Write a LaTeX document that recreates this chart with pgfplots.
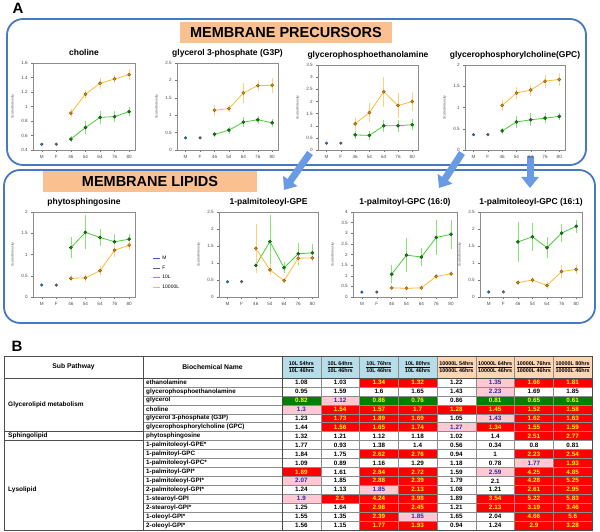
\documentclass[border=0pt]{standalone}
\usepackage{fontspec}
\setmainfont{Liberation Sans}
\usepackage{pgfplots}
\pgfplotsset{compat=1.18}
\usetikzlibrary{arrows.meta}

\definecolor{boxblue}{RGB}{70,120,195}
\definecolor{peach}{RGB}{250,192,143}
\definecolor{arrowblue}{RGB}{105,155,228}
\definecolor{lg}{RGB}{70,205,50}
\definecolor{lgE}{RGB}{135,228,115}
\definecolor{dg}{RGB}{25,125,25}
\definecolor{lo}{RGB}{255,185,55}
\definecolor{loE}{RGB}{255,208,125}
\definecolor{do}{RGB}{215,140,20}
\definecolor{mb}{RGB}{45,105,185}
\definecolor{fg}{RGB}{95,95,115}
\definecolor{cW}{RGB}{255,255,255}
\definecolor{cR}{RGB}{255,0,0}
\definecolor{cG}{RGB}{0,128,0}
\definecolor{cP}{RGB}{255,200,210}
\definecolor{tW}{RGB}{0,0,0}
\definecolor{tR}{RGB}{255,255,0}
\definecolor{tG}{RGB}{255,255,0}
\definecolor{tP}{RGB}{40,40,170}
\definecolor{headblue}{RGB}{183,222,232}
\definecolor{headpeach}{RGB}{252,213,180}

\pgfplotsset{
 chartstyle/.style={
  scale only axis, anchor=south west,
  xmin=-0.6, xmax=6.4, xtick={0,...,6}, xticklabels={M,F,46,54,64,76,80},
  ymin=0,
  tick pos=left, tick align=outside, major tick length=1.8pt,
  axis line style={draw=black!45, line width=0.4pt},
  tick style={draw=black!55, line width=0.4pt},
  tick label style={font=\fontsize{4.6}{5}\selectfont, text=black!70},
  /pgf/number format/assume math mode=true,
  ylabel={Scaled Intensity},
  ylabel style={font=\fontsize{3.4}{4}\selectfont, text=black!70},
  title style={at={(0.5,1)}, anchor=base, yshift=1pt, font=\fontsize{8.5}{10}\selectfont\bfseries},
  clip=false,
 },
 shortleg/.style={legend image code/.code={\draw[##1] (0pt,0pt) -- (7pt,0pt);}},
}

\newcommand{\chart}[9]{%
\begin{axis}[chartstyle, at={(#1pt,#2pt)}, width=#3pt, #4, title={#5}]
#9
\addplot[forget plot, only marks, mark=*, mark size=1.4, mark options={fill=mb, draw=mb!70!black, line width=0.3pt}] coordinates {(0,#6)};
\addplot[forget plot, only marks, mark=*, mark size=1.4, mark options={fill=fg, draw=fg!70!black, line width=0.3pt}] coordinates {(1,#6)};
\addplot[forget plot, lg, line width=0.8pt, mark=*, mark size=1.6, mark options={fill=dg, draw=dg!60!black, line width=0.4pt},
  error bars/.cd, y dir=both, y explicit, error bar style={lgE, line width=0.5pt}, error mark options={lgE, line width=0.5pt, mark size=1.3}] coordinates {#7};
\addplot[forget plot, lo, line width=0.8pt, mark=*, mark size=1.6, mark options={fill=do, draw=do!60!black, line width=0.4pt},
  error bars/.cd, y dir=both, y explicit, error bar style={loE, line width=0.5pt}, error mark options={loE, line width=0.5pt, mark size=1.3}] coordinates {#8};
\end{axis}}

\begin{document}
\begin{tikzpicture}[x=1pt,y=1pt]
\useasboundingbox (0,0) rectangle (600,532);

% ---------- Panel A frames ----------
\node[font=\fontsize{15}{16}\selectfont\bfseries] at (18,524) {A};
\draw[boxblue, line width=1.8pt, rounded corners=16pt] (7,513) rectangle (586,367);
\draw[boxblue, line width=1.8pt, rounded corners=16pt] (4,362) rectangle (595,209);
\fill[peach] (180,510) rectangle (392,489);
\node[font=\fontsize{14.5}{16}\selectfont\bfseries] at (286,499.5) {MEMBRANE PRECURSORS};
\fill[peach] (43,361) rectangle (257,340);
\node[font=\fontsize{14.5}{16}\selectfont\bfseries] at (150,350.5) {MEMBRANE LIPIDS};

\draw[arrowblue, line width=7pt, -{Triangle[width=17pt,length=11pt]}] (310,379) -- (284,342);
\draw[arrowblue, line width=7pt, -{Triangle[width=17pt,length=11pt]}] (462,379) -- (439,344);
\draw[arrowblue, line width=7pt, -{Triangle[width=17pt,length=11pt]}] (530,376) -- (530,344);

% ---------- Precursor charts ----------
\chart{33}{382}{102}{height=87pt, ymin=0.4, ymax=1.6, ytick={0.4,0.6,0.8,1,1.2,1.4,1.6}}{choline}{0.48}
 {(2,0.55)+-(0,0.02) (3,0.71)+-(0,0.07) (4,0.85)+-(0,0.07) (5,0.86)+-(0,0.06) (6,0.93)+-(0,0.04)}
 {(2,0.91)+-(0,0.04) (3,1.17)+-(0,0.04) (4,1.32)+-(0,0.06) (5,1.38)+-(0,0.04) (6,1.44)+-(0,0.06)}{}
\chart{177}{382}{101}{height=87pt, ymax=2.5, ytick={0,0.5,1,1.5,2,2.5}}{glycerol 3-phosphate (G3P)}{0.35}
 {(2,0.45)+-(0,0.03) (3,0.57)+-(0,0.06) (4,0.80)+-(0,0.10) (5,0.87)+-(0,0.08) (6,0.78)+-(0,0.07)}
 {(2,1.14)+-(0,0.12) (3,1.19)+-(0,0.06) (4,1.64)+-(0,0.25) (5,1.85)+-(0,0.11) (6,1.86)+-(0,0.18)}{}
\chart{318}{382}{100}{height=85pt, ymax=3.5, ytick={0,0.5,1,1.5,2,2.5,3,3.5}}{glycerophosphoethanolamine}{0.28}
 {(2,0.62)+-(0,0.12) (3,0.60)+-(0,0.12) (4,1.00)+-(0,0.20) (5,1.00)+-(0,0.20) (6,1.04)+-(0,0.17)}
 {(2,1.08)+-(0,0.20) (3,1.54)+-(0,0.33) (4,2.40)+-(0,0.57) (5,1.83)+-(0,0.45) (6,2.00)+-(0,0.33)}{}
\chart{465}{382}{100}{height=85pt, ymax=2, ytick={0,0.5,1,1.5,2}}{glycerophosphorylcholine(GPC)}{0.36}
 {(2,0.45)+-(0,0.04) (3,0.66)+-(0,0.12) (4,0.71)+-(0,0.12) (5,0.75)+-(0,0.08) (6,0.79)+-(0,0.06)}
 {(2,1.05)+-(0,0.10) (3,1.34)+-(0,0.10) (4,1.41)+-(0,0.10) (5,1.62)+-(0,0.12) (6,1.66)+-(0,0.12)}{}

% ---------- Lipid charts ----------
\chart{33}{235}{102}{height=85pt, ymax=2, ytick={0,0.5,1,1.5,2}, shortleg,
  legend style={at={(1.17,0.28)}, anchor=west, draw=none, fill=none, font=\fontsize{5}{6}\selectfont, row sep=0.6pt, inner sep=0pt},
  legend cell align=left}{phytosphingosine}{0.28}
 {(2,1.16)+-(0,0.22) (3,1.52)+-(0,0.37) (4,1.40)+-(0,0.18) (5,1.30)+-(0,0.15) (6,1.36)+-(0,0.08)}
 {(2,0.44)+-(0,0.04) (3,0.45)+-(0,0.06) (4,0.62)+-(0,0.08) (5,1.10)+-(0,0.12) (6,1.22)+-(0,0.08)}
 {\addlegendimage{mb, line width=0.9pt}\addlegendentry{M}
  \addlegendimage{fg, line width=0.9pt}\addlegendentry{F}
  \addlegendimage{lg, line width=0.9pt}\addlegendentry{10L}
  \addlegendimage{lo, line width=0.9pt}\addlegendentry{10000L}}
\chart{219}{235}{99}{height=85pt, ymax=2.5, ytick={0,0.5,1,1.5,2,2.5}}{1-palmitoleoyl-GPE}{0.45}
 {(2,0.93)+-(0,0.18) (3,1.63)+-(0,0.75) (4,0.86)+-(0,0.12) (5,1.27)+-(0,0.28) (6,1.30)+-(0,0.22)}
 {(2,1.43)+-(0,0.68) (3,0.80)+-(0,0.12) (4,0.48)+-(0,0.03) (5,1.14)+-(0,0.10) (6,1.15)+-(0,0.08)}{}
\chart{353}{235}{104}{height=85pt, ymax=4, ytick={0,0.5,1,1.5,2,2.5,3,3.5,4}}{1-palmitoyl-GPC (16:0)}{0.23}
 {(2,1.07)+-(0,0.37) (3,1.97)+-(0,0.75) (4,1.88)+-(0,0.38) (5,2.80)+-(0,0.75) (6,2.95)+-(0,0.62)}
 {(2,0.43)+-(0,0.03) (3,0.41)+-(0,0.03) (4,0.43)+-(0,0.03) (5,0.97)+-(0,0.06) (6,1.09)+-(0,0.06)}{}
\chart{480}{235}{102}{height=85pt, ymax=2.5, ytick={0,0.5,1,1.5,2,2.5}}{1-palmitoleoyl-GPC (16:1)}{0.15}
 {(2,1.62)+-(0,0.55) (3,1.77)+-(0,0.37) (4,1.45)+-(0,0.27) (5,1.88)+-(0,0.22) (6,2.08)+-(0,0.15)}
 {(2,0.42)+-(0,0.03) (3,0.50)+-(0,0.06) (4,0.34)+-(0,0.07) (5,0.75)+-(0,0.16) (6,0.81)+-(0,0.10)}{}

% ---------- Panel B table ----------
\node[font=\fontsize{15}{16}\selectfont\bfseries] at (17,186) {B};
\def\rh{8.94}
\def\cw{38.75}
\fill[headblue] (282,154) rectangle (437,176);
\fill[headpeach] (437,154) rectangle (592,176);
\node[font=\fontsize{6.8}{8}\selectfont\bfseries] at (73.5,165) {Sub Pathway};
\node[font=\fontsize{6.8}{8}\selectfont\bfseries] at (212.5,165) {Biochemical Name};
\foreach \a [count=\j] in {10L 54hrs,10L 64hrs,10L 76hrs,10L 80hrs,10000L 54hrs,10000L 64hrs,10000L 76hrs,10000L 80hrs}{
  \pgfmathsetmacro{\den}{\j<5 ? "10L 46hrs" : "10000L 46hrs"}
  \node[font=\fontsize{5.4}{6.6}\selectfont\bfseries, align=center] at ({282+(\j-0.5)*\cw},165) {\underline{\a}\\\den};
}
\foreach \r [count=\i] in {
 {1.08/W,1.03/W,1.34/R,1.32/R,1.22/W,1.35/P,1.66/R,1.81/R},
 {0.95/W,1.59/W,1.6/W,1.65/W,1.43/W,2.23/P,1.69/W,1.85/W},
 {0.82/G,1.12/P,0.86/G,0.76/G,0.86/W,0.81/G,0.65/G,0.61/G},
 {1.3/P,1.54/R,1.57/R,1.7/R,1.28/R,1.45/R,1.52/R,1.58/R},
 {1.23/W,1.73/R,1.89/R,1.69/R,1.05/W,1.43/P,1.62/R,1.63/R},
 {1.44/W,1.56/R,1.65/R,1.74/R,1.27/P,1.34/R,1.55/R,1.59/R},
 {1.32/W,1.21/W,1.12/W,1.18/W,1.02/W,1.4/W,2.51/R,2.77/R},
 {1.77/W,0.93/W,1.38/W,1.4/W,0.56/W,0.34/W,0.8/W,0.81/W},
 {1.84/W,1.75/W,2.62/R,2.76/R,0.94/W,1/W,2.23/R,2.54/R},
 {1.09/W,0.89/W,1.16/W,1.29/W,1.18/W,0.78/W,1.77/P,1.93/R},
 {1.89/R,1.61/W,2.84/R,2.72/R,1.59/W,2.59/P,4.25/R,4.85/R},
 {2.07/P,1.85/W,2.88/R,2.39/R,1.79/W,2.1/W,4.28/R,5.25/R},
 {1.24/W,1.13/W,1.85/P,2.13/R,1.08/W,1.21/W,2.61/R,2.95/R},
 {1.9/P,2.5/R,4.24/R,3.98/R,1.89/W,3.54/R,5.22/R,5.83/R},
 {1.25/W,1.64/W,2.98/R,2.45/R,1.21/W,2.13/R,3.19/R,3.46/R},
 {1.55/W,1.35/W,2.39/R,1.85/P,1.65/W,2.04/W,4.66/R,5.6/R},
 {1.56/W,1.15/W,1.77/R,1.93/R,0.94/W,1.24/W,2.9/R,3.28/R}}{
  \foreach \v/\c [count=\j] in \r {
    \fill[c\c] ({282+(\j-1)*\cw},{154-(\i-1)*\rh}) rectangle ({282+\j*\cw},{154-\i*\rh});
    \node[text=t\c, font=\fontsize{6.3}{7}\selectfont\bfseries, inner sep=0pt] at ({282+(\j-0.5)*\cw},{154-(\i-0.5)*\rh}) {\v};
  }
}
\foreach \n [count=\i] in {ethanolamine,glycerophosphoethanolamine,glycerol,choline,glycerol 3-phosphate  (G3P),glycerophosphorylcholine (GPC),phytosphingosine,1-palmitoleoyl-GPE*,1-palmitoyl-GPC,1-palmitoleoyl-GPC*,1-palmitoyl-GPI*,1-palmitoleoyl-GPI*,2-palmitoleoyl-GPI*,1-stearoyl-GPI,2-stearoyl-GPI*,1-oleoyl-GPI*,2-oleoyl-GPI*}{
  \node[anchor=west, font=\fontsize{6.3}{7}\selectfont\bfseries, inner sep=0pt] at (146,{154-(\i-0.5)*\rh}) {\n};
}
\node[anchor=west, font=\fontsize{6.5}{7}\selectfont\bfseries, inner sep=0pt] at (8,{154-3*\rh}) {Glycerolipid metabolism};
\node[anchor=west, font=\fontsize{6.5}{7}\selectfont\bfseries, inner sep=0pt] at (8,{154-6.5*\rh}) {Sphingolipid};
\node[anchor=west, font=\fontsize{6.5}{7}\selectfont\bfseries, inner sep=0pt] at (8,{154-12.5*\rh}) {Lysolipid};
% grid
\foreach \i in {1,...,16}{ \draw[black!45, line width=0.5pt] (143,{154-\i*\rh}) -- (592,{154-\i*\rh}); }
\foreach \j in {1,...,7}{ \draw[black!45, line width=0.5pt] ({282+\j*\cw},2) -- ({282+\j*\cw},176); }
\draw[black!70, line width=0.6pt] (4,176) rectangle (592,2);
\draw[black!70, line width=0.6pt] (4,154) -- (592,154);
\draw[black!70, line width=0.6pt] (4,{154-6*\rh}) -- (143,{154-6*\rh});
\draw[black!70, line width=0.6pt] (4,{154-7*\rh}) -- (143,{154-7*\rh});
\draw[black!70, line width=0.6pt] (143,2) -- (143,176);
\draw[black!70, line width=0.6pt] (282,2) -- (282,176);
\end{tikzpicture}
\end{document}
